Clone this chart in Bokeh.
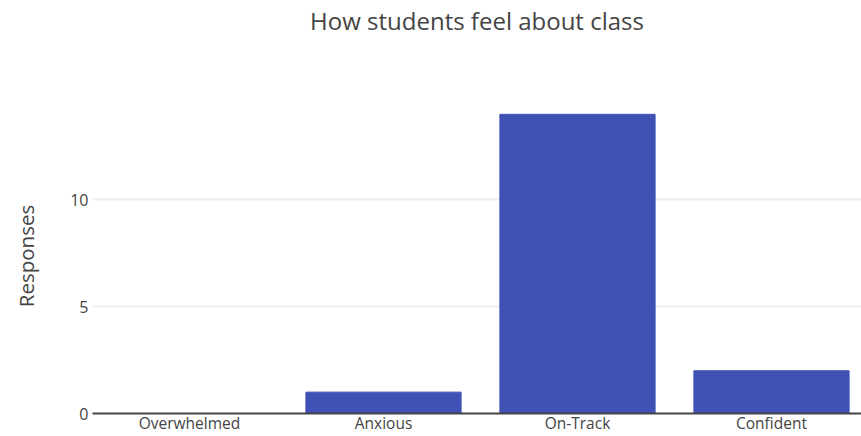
from bokeh.plotting import figure
from bokeh.models import Range1d, FixedTicker, Title
from bokeh.embed import file_html
from bokeh.resources import INLINE

categories = ["Overwhelmed", "Anxious", "On-Track", "Confident"]
responses = [0, 1, 14, 2]
y_ticks = [0, 5, 10]
title_text = "How students feel about class"

FONT = "Open Sans"
TXT = "#444444"

xs = list(range(len(categories)))

p = figure(width=861, height=436, output_backend="svg", toolbar_location=None,
           x_range=Range1d(-0.5, 3.464), y_range=Range1d(0, 14.74),
           min_border_left=92, min_border_right=0, min_border_top=98,
           min_border_bottom=23, title=None)
p.outline_line_color = None

p.vbar(x=xs, top=responses, width=0.8, color="#3f51b5")

# empty spacer title closest to the frame, real title stacked above it
spacer = Title(text=" ", text_font=FONT, text_font_size="24px", standoff=27)
p.add_layout(spacer, "above")
t = Title(text=title_text, align="center", offset=3,
          text_font=FONT, text_font_size="24px", text_color=TXT,
          text_font_style="normal", standoff=0)
p.add_layout(t, "above")

p.xaxis.ticker = FixedTicker(ticks=xs)
p.xaxis.major_label_overrides = {i: c for i, c in enumerate(categories)}
p.xaxis.major_tick_line_color = None
p.xaxis.minor_tick_line_color = None
p.xaxis.major_tick_out = 0
p.xaxis.major_tick_in = 0
p.xaxis.minor_tick_out = 0
p.xaxis.axis_label_standoff = 0
p.xaxis.axis_line_color = "#444444"
p.xaxis.axis_line_width = 2
p.xaxis.major_label_standoff = -2
p.xaxis.major_label_text_font = FONT
p.xaxis.major_label_text_font_size = "15.5px"
p.xaxis.major_label_text_color = TXT

p.yaxis.ticker = FixedTicker(ticks=y_ticks)
p.yaxis.axis_line_color = None
p.yaxis.major_tick_line_color = None
p.yaxis.minor_tick_line_color = None
p.yaxis.major_tick_out = 0
p.yaxis.major_tick_in = 0
p.yaxis.minor_tick_out = 0
p.yaxis.major_label_standoff = 4
p.yaxis.major_label_text_font = FONT
p.yaxis.major_label_text_font_size = "16px"
p.yaxis.major_label_text_color = TXT
p.yaxis.axis_label = "Responses"
p.yaxis.axis_label_text_font = FONT
p.yaxis.axis_label_text_font_size = "20.5px"
p.yaxis.axis_label_text_font_style = "normal"
p.yaxis.axis_label_text_color = TXT
p.yaxis.axis_label_standoff = 27

p.xgrid.grid_line_color = None
p.ygrid.grid_line_color = "#eeeeee"
p.ygrid.grid_line_width = 2

open("out.html", "w").write(file_html(p, INLINE))
